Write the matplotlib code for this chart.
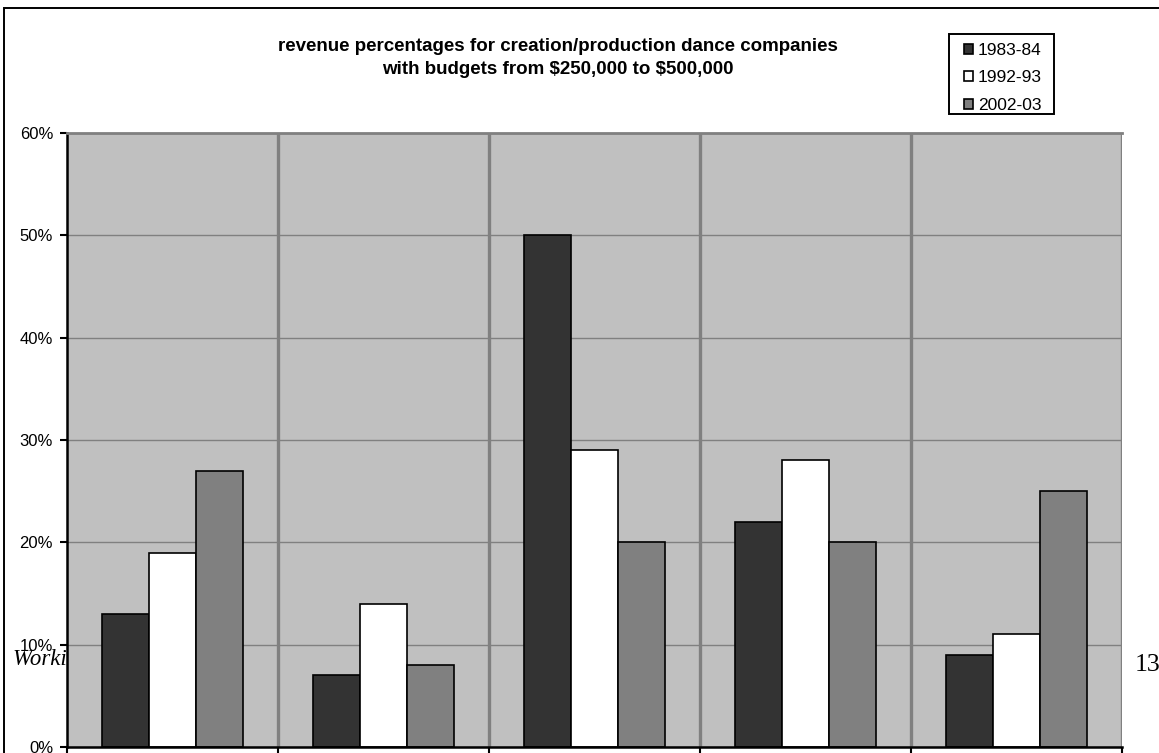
import matplotlib
matplotlib.use("Agg")
import matplotlib.pyplot as plt
from matplotlib.patches import Rectangle
import matplotlib.transforms as mtransforms
import numpy as np

plt.rcParams['font.family'] = ['Liberation Sans', 'DejaVu Sans']

# ---- data ----
categories = ["cat1", "cat2", "cat3", "cat4", "cat5"]
series_names = ["1983-84", "1992-93", "2002-03"]
v_1983 = [13, 7, 50, 22, 9]
v_1992 = [19, 14, 29, 28, 11]
v_2002 = [27, 8, 20, 20, 25]
y_ticks = [0, 10, 20, 30, 40, 50, 60]
y_tick_labels = ["0%", "10%", "20%", "30%", "40%", "50%", "60%"]
title = "revenue percentages for creation/production dance companies\nwith budgets from \\$250,000 to \\$500,000"

colors = ["#333333", "#ffffff", "#808080"]

W, H = 1159, 753
fig = plt.figure(figsize=(W / 100, H / 100), dpi=100)

# page artefacts behind the chart
fig.text(13 / W, 1 - 660 / H, "Working Paper", family=['Liberation Serif'], style='italic',
         fontsize=16.5, ha='left', va='center', zorder=-5)
fig.text(1135 / W, 1 - 665 / H, "13", family=['Liberation Serif'], fontsize=18.5,
         ha='left', va='center')

# outer border
fig.patches.append(Rectangle((4 / W, -0.05), 1.2, 1 - 8 / H + 0.05, transform=fig.transFigure,
                             fill=False, edgecolor='black', linewidth=1.4, zorder=-10))

left, right, top, bottom = 67, 1122, 133, 747
ax = fig.add_axes([left / W, 1 - bottom / H, (right - left) / W, (bottom - top) / H])
ax.set_facecolor('#c0c0c0')

n = len(categories)
x = np.arange(n)
bw = 1 / 4.5
for i, (vals, c, name) in enumerate(zip([v_1983, v_1992, v_2002], colors, series_names)):
    ax.bar(x + (i - 1) * bw, vals, width=bw, color=c, edgecolor='black', linewidth=1.2,
           label=name, zorder=3)

ax.set_xlim(-0.5, n - 0.5)
ax.set_ylim(0, 60)
ax.set_yticks(y_ticks)
ax.set_yticklabels(y_tick_labels, fontsize=12)
offset = mtransforms.ScaledTranslation(0, -3 / 100, fig.dpi_scale_trans)
for lab in ax.get_yticklabels():
    lab.set_transform(lab.get_transform() + offset)
ax.yaxis.grid(True, color='#808080', linewidth=1.0, zorder=1)
ax.set_axisbelow(True)

bounds = np.arange(n + 1) - 0.5
ax.set_xticks(bounds)
ax.set_xticklabels([])
for b in bounds[1:]:
    ax.axvline(b, color='#808080', linewidth=2.4, zorder=2)

ax.tick_params(axis='y', direction='out', length=5, width=1.5, color='black', pad=5)
ax.tick_params(axis='x', direction='out', length=6, width=1.5, color='black')

ax.spines['left'].set_color('black')
ax.spines['left'].set_linewidth(1.8)
ax.spines['bottom'].set_color('black')
ax.spines['bottom'].set_linewidth(1.8)
ax.spines['top'].set_color('#808080')
ax.spines['top'].set_linewidth(2.0)
ax.spines['right'].set_visible(False)
for s in ax.spines.values():
    s.set_zorder(4)

# title
fig.text(558 / W, 1 - 58 / H, title, fontsize=13.5, fontweight='bold', ha='center',
         va='center', linespacing=1.4)

# legend
handles, labels = ax.get_legend_handles_labels()
leg = fig.legend(handles, labels, loc='upper left', bbox_to_anchor=(964 / W, 1 - 43 / H),
                 frameon=False, fontsize=12.5, handlelength=0.5, handleheight=0.5,
                 handletextpad=0.3, labelspacing=0.72, borderpad=0, borderaxespad=0)
fig.patches.append(Rectangle((949 / W, 1 - 114 / H), 105 / W, 80 / H, transform=fig.transFigure,
                             fill=False, edgecolor='black', linewidth=1.4, zorder=5))

fig.savefig("out.png", dpi=100)
